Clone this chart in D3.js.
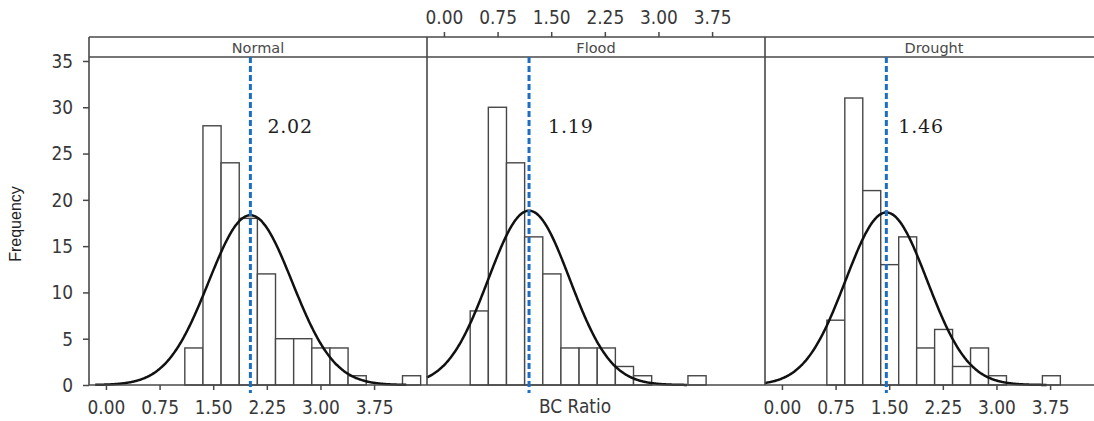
<!DOCTYPE html>
<html>
<head>
<meta charset="utf-8">
<script src="https://cdn.jsdelivr.net/npm/d3@7"></script>
<style>
  html, body { margin: 0; padding: 0; background: #fff; }
  svg { display: block; }
</style>
</head>
<body>
<svg id="chart" width="1094" height="421"></svg>
<script>
// Panels of BC ratio distributions
const panels = ["Normal", "Flood", "Drought"];

// Histogram bins per panel: left edge of first bin, bin width, counts
const binStart = [1.103, 0.367, 0.628];
const binWidth = [0.2537, 0.2538, 0.2512];
const countsNormal  = [4, 28, 24, 18, 12, 5, 5, 4, 4, 1, 0, 0, 1];
const countsFlood   = [8, 30, 24, 16, 12, 4, 4, 4, 2, 1, 0, 0, 1];
const countsDrought = [7, 31, 21, 13, 16, 4, 6, 2, 4, 1, 0, 0, 1];
const counts = [countsNormal, countsFlood, countsDrought];

// Fitted normal curves: mean (also marked by dashed line) and sd
const means = [2.02, 1.19, 1.46];
const sds = [0.585, 0.57, 0.57];
const curveFrom = [-0.15, -0.24, -0.24];
const curveTo = [4.2, 3.4, 3.7];

// Axis ticks
const xTicks = [0, 0.75, 1.5, 2.25, 3, 3.75];
const yTicks = [0, 5, 10, 15, 20, 25, 30, 35];

const svg = d3.select("#chart");
const W = 1094;
const panelLeft = [89, 427, 765];
const panelW = 338;
const stripTop = 37, plotTop = 57, plotBottom = 385;
const axisColor = "#484848";
const textColor = "#383838";
const stretch = 1.18;   // tall, narrow lettering

const y = d3.scaleLinear().domain([0, 35.43]).range([plotBottom, plotTop]);
const xScales = panelLeft.map(px =>
  d3.scaleLinear().domain([-0.237, 4.49]).range([px, px + panelW]));

const fmt = d3.format(".2f");

// Stretch text vertically while keeping its anchor point in place
function tall(sel, k) {
  sel.each(function () {
    const t = d3.select(this);
    const yy = +(t.attr("y") || 0);
    t.attr("y", yy / k).attr("transform", `scale(1,${k})`);
  });
}

// Histogram bars and fitted curves
panels.forEach((name, p) => {
  const x = xScales[p];
  const g = svg.append("g");
  const bins = counts[p].map((c, i) => ({
    x0: binStart[p] + i * binWidth[p],
    x1: binStart[p] + (i + 1) * binWidth[p],
    c
  })).filter(d => d.c > 0);

  g.selectAll("rect").data(bins).join("rect")
    .attr("x", d => x(d.x0))
    .attr("y", d => y(d.c))
    .attr("width", d => x(d.x1) - x(d.x0))
    .attr("height", d => y(0) - y(d.c))
    .attr("fill", "#fff")
    .attr("stroke", "#474747")
    .attr("stroke-width", 1.4);

  const n = d3.sum(counts[p]);
  const scale = n * binWidth[p] / (sds[p] * Math.sqrt(2 * Math.PI));
  const pts = d3.range(curveFrom[p], curveTo[p] + 1e-9, 0.01).map(v =>
    [v, scale * Math.exp(-0.5 * ((v - means[p]) / sds[p]) ** 2)]);
  g.append("path")
    .datum(pts)
    .attr("fill", "none")
    .attr("stroke", "#111")
    .attr("stroke-width", 2.5)
    .attr("d", d3.line().x(d => x(d[0])).y(d => y(d[1])).curve(d3.curveBasis));
});

// Frame: strip band, panel dividers, baseline
const frame = svg.append("g").attr("stroke", axisColor).attr("stroke-width", 1.6);
[stripTop, plotTop, plotBottom].forEach(yy => {
  frame.append("line").attr("x1", panelLeft[0]).attr("x2", W).attr("y1", yy).attr("y2", yy);
});
panelLeft.forEach(px => {
  frame.append("line").attr("x1", px).attr("x2", px).attr("y1", stripTop).attr("y2", plotBottom);
});

// Strip titles
panels.forEach((name, p) => {
  svg.append("text")
    .attr("x", panelLeft[p] + panelW / 2)
    .attr("y", plotTop - 4)
    .attr("text-anchor", "middle")
    .attr("font-family", "DejaVu Sans, Verdana, sans-serif")
    .attr("font-size", 14.5)
    .attr("fill", "#4a4a4a")
    .text(name);
});

// Mean lines and their labels
const labelDx = [17, 19, 12];
panels.forEach((name, p) => {
  const x = xScales[p];
  svg.append("line")
    .attr("x1", x(means[p])).attr("x2", x(means[p]))
    .attr("y1", plotTop).attr("y2", plotBottom + 8)
    .attr("stroke", "#1b6ec2")
    .attr("stroke-width", 3)
    .attr("stroke-dasharray", "6,3");
  svg.append("text")
    .attr("x", x(means[p]) + labelDx[p])
    .attr("y", 133)
    .attr("font-family", "DejaVu Serif, serif")
    .attr("font-size", 19)
    .attr("letter-spacing", 0.8)
    .attr("fill", "#1e1e1e")
    .text(fmt(means[p]));
});

function styleAxis(g) {
  g.select(".domain").remove();
  g.selectAll(".tick line").attr("stroke", axisColor).attr("stroke-width", 1.5);
  g.selectAll(".tick text")
    .attr("fill", textColor)
    .attr("font-family", "DejaVu Sans, Verdana, sans-serif");
}

// Bottom axes on the outer panels
[0, 2].forEach(p => {
  svg.append("g")
    .attr("transform", `translate(0,${plotBottom})`)
    .call(d3.axisBottom(xScales[p]).tickValues(xTicks).tickFormat(fmt).tickSize(5).tickPadding(10))
    .call(styleAxis)
    .call(g => g.selectAll(".tick text").attr("font-size", 17).call(tall, stretch));
});

// Top axis on the middle panel
svg.append("g")
  .attr("transform", `translate(0,${stripTop})`)
  .call(d3.axisTop(xScales[1]).tickValues(xTicks).tickFormat(fmt).tickSize(5).tickPadding(8))
  .call(styleAxis)
  .call(g => g.selectAll(".tick text").attr("font-size", 17).call(tall, stretch));

// Left axis
svg.append("g")
  .attr("transform", `translate(${panelLeft[0]},0)`)
  .call(d3.axisLeft(y).tickValues(yTicks).tickSize(6).tickPadding(10))
  .call(styleAxis)
  .call(g => g.selectAll(".tick text").attr("font-size", 17).call(tall, stretch));

// Axis titles
svg.append("text")
  .attr("x", 575)
  .attr("y", 413)
  .attr("text-anchor", "middle")
  .attr("font-family", "DejaVu Sans, Verdana, sans-serif")
  .attr("font-size", 17)
  .attr("fill", textColor)
  .text("BC Ratio")
  .call(tall, stretch);

svg.append("text")
  .attr("transform", "translate(21,224) rotate(-90)")
  .attr("text-anchor", "middle")
  .attr("font-family", "Liberation Sans, Arial, sans-serif")
  .attr("font-size", 16)
  .attr("fill", "#222")
  .text("Frequency");
</script>
</body>
</html>
